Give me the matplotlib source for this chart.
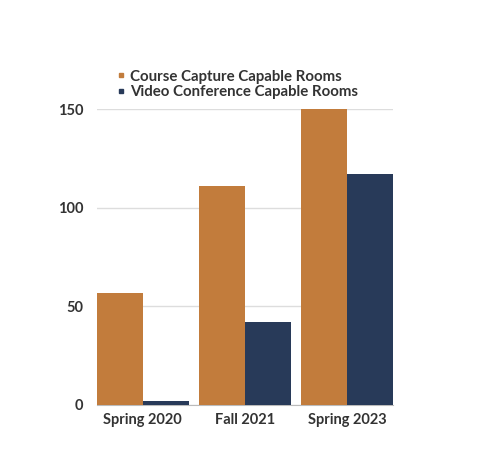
import numpy as np
import matplotlib.pyplot as plt
from matplotlib.lines import Line2D

# данные
terms = ['Spring 2020', 'Fall 2021', 'Spring 2023']
course_capture = [57, 111, 150]
video_conf = [2, 42, 117]
series_names = ['Course Capture Capable Rooms', 'Video Conference Capable Rooms']
colors = ['#C27C3C', '#283A59']
yticks = [0, 50, 100, 150]

plt.rcParams['font.family'] = ['Lato', 'DejaVu Sans']
text_col = '#333333'

fig = plt.figure(figsize=(4.87, 4.61), dpi=100)
ax = fig.add_axes([0.199, 0.1215, 0.608, 0.642])

x = np.arange(len(terms))
w = 0.45
ax.bar(x - w / 2, course_capture, w, color=colors[0], zorder=3)
ax.bar(x + w / 2, video_conf, w, color=colors[1], zorder=3)

ax.set_xlim(-0.45, 2.45)
ax.set_ylim(0, 150)
ax.set_yticks(yticks)
ax.set_xticks(x)
ax.set_xticklabels(terms, fontsize=10.5, fontweight='bold', color=text_col)
for lab in ax.get_yticklabels():
    lab.set_fontsize(10.5)
    lab.set_fontweight('bold')
    lab.set_color(text_col)
ax.tick_params(length=0, pad=10)
ax.tick_params(axis='x', pad=6)
ax.yaxis.grid(True, color='#dddddd', linewidth=1, zorder=0)
for s in ['top', 'right', 'left']:
    ax.spines[s].set_visible(False)
ax.spines['bottom'].set_color('#bbbbbb')

handles = [Line2D([], [], marker='s', linestyle='', color=c, markersize=3.5) for c in colors]
fig.legend(handles, series_names, loc='upper left', bbox_to_anchor=(0.228, 0.862),
           frameon=False, handlelength=0.5, handletextpad=0.35, labelspacing=0.1,
           borderaxespad=0, prop={'size': 10.8, 'weight': 'bold'}, labelcolor=text_col)

fig.savefig('out.png', dpi=100)
